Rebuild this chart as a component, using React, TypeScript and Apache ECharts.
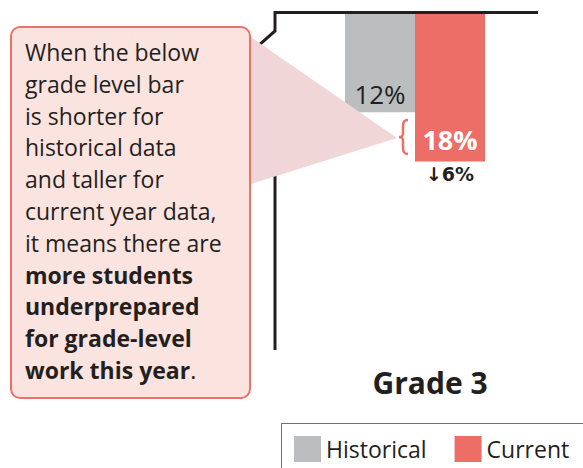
import React, { useEffect, useRef } from "react";
import * as echarts from "echarts";

const categories = ["Grade 3"];
const seriesNames = ["Historical", "Current"];
const historical = [12];
const current = [18];
const changeLabels = ["↓6%"];
const calloutLines = [
  "When the below",
  "grade level bar",
  "is shorter for",
  "historical data",
  "and taller for",
  "current year data,",
  "it means there are",
];
const calloutBold = ["more students", "underprepared", "for grade-level", "work this year"];

const FONT = "'Open Sans', 'Noto Sans', sans-serif";
const DARK = "#231f20";
const GRAY = "#bcbdbf";
const RED = "#ec6e67";

echarts.graphic.registerShape(
  "brace",
  echarts.graphic.extendPath(
    "M9 0 C5 0 4 2 4 6 L4 13 C4 16 3 17 0 17 C3 17 4 18 4 21 L4 28 C4 32 5 34 9 34",
    {}
  )
);

export default function App() {
  const ref = useRef<HTMLDivElement>(null);
  useEffect(() => {
    if (!ref.current) return;
    const chart = echarts.init(ref.current, null, { renderer: "svg" });
    const calloutText =
      calloutLines.join("\n") +
      "\n" +
      calloutBold.map((l, i) => (i === calloutBold.length - 1 ? `{b|${l}}.` : `{b|${l}}`)).join("\n");
    const baseGraphics: any[] = [
      {
        id: "axis",
        type: "polyline",
        z: 5,
        shape: {
          points: [
            [538, 12.5],
            [275, 12.5],
            [275, 31],
            [259, 45],
            [275, 62],
            [275, 350],
          ],
        },
        style: { stroke: DARK, lineWidth: 3, fill: null },
      },
      {
        id: "tri",
        type: "polygon",
        z: 20,
        shape: { points: [[248, 35], [397, 138], [248, 185]] },
        style: { fill: "#f0d6d7" },
      },
      {
        id: "box",
        type: "rect",
        z: 21,
        shape: { x: 11, y: 27, width: 239, height: 371, r: 9 },
        style: { fill: "#fbe3df", stroke: "#e9736c", lineWidth: 2 },
      },
      {
        id: "boxText",
        type: "text",
        z: 22,
        x: 25,
        y: 36,
        style: {
          text: calloutText,
          fontSize: 23,
          fontFamily: FONT,
          fill: DARK,
          lineHeight: 31.8,
          rich: { b: { fontSize: 23, fontWeight: "bold", fontFamily: FONT, fill: DARK, lineHeight: 31.8 } },
        },
      },
      {
        id: "brace",
        type: "brace",
        z: 22,
        x: 399,
        y: 120,
        style: { stroke: RED, lineWidth: 2.5, fill: null },
      },
      {
        id: "grade",
        type: "text",
        z: 22,
        x: 430,
        y: 382,
        style: {
          text: categories[0],
          fontSize: 30,
          fontWeight: "bold",
          fontFamily: FONT,
          fill: DARK,
          align: "center",
          verticalAlign: "middle",
        },
      },
      {
        id: "legendBox",
        type: "rect",
        z: 1,
        shape: { x: 281.5, y: 423.5, width: 320, height: 60 },
        style: { fill: "#ffffff", stroke: "#6d6e71", lineWidth: 1 },
      },
    ];
    const option: any = {
      animation: false,
      grid: { left: 275, top: 14, width: 280, height: 336 },
      xAxis: {
        type: "category",
        data: categories,
        position: "top",
        axisLine: { show: false },
        axisTick: { show: false },
        axisLabel: { show: false },
      },
      yAxis: { type: "value", inverse: true, min: 0, max: 41, show: false },
      legend: {
        data: seriesNames,
        left: 294,
        top: 436,
        padding: 0,
        z: 10,
        icon: "rect",
        itemWidth: 27,
        itemHeight: 26,
        itemGap: 28,
        textStyle: { fontSize: 23, color: DARK, fontFamily: FONT },
      },
      series: [
        {
          name: seriesNames[0],
          type: "bar",
          data: historical,
          barWidth: 70,
          barGap: "0%",
          itemStyle: { color: GRAY },
          label: {
            show: true,
            position: "insideBottom",
            distance: 5,
            formatter: "{c}%",
            color: DARK,
            fontSize: 26,
            fontFamily: FONT,
          },
        },
        {
          name: seriesNames[1],
          type: "bar",
          data: current,
          barWidth: 70,
          barGap: "0%",
          itemStyle: { color: RED },
          label: {
            show: true,
            position: "insideBottom",
            distance: 9,
            formatter: "{c}%",
            color: "#ffffff",
            fontWeight: "bold",
            fontSize: 27,
            fontFamily: FONT,
          },
        },
      ],
      graphic: baseGraphics,
    };
    chart.setOption(option);
    const p = chart.convertToPixel({ gridIndex: 0 }, [categories[0], current[0]]) as number[];
    chart.setOption({
      graphic: [
        ...baseGraphics,
        {
          id: "change",
          type: "text",
          z: 22,
          x: p[0] + 35,
          y: p[1] + 12,
          style: {
            text: changeLabels[0],
            fontSize: 19,
            fontWeight: "bold",
            fontFamily: "'DejaVu Sans', 'Open Sans', sans-serif",
            fill: DARK,
            align: "center",
            verticalAlign: "middle",
          },
        },
      ],
    });
    return () => chart.dispose();
  }, []);
  return <div ref={ref} style={{ width: 583, height: 468, position: "absolute", left: 0, top: 0 }} />;
}
